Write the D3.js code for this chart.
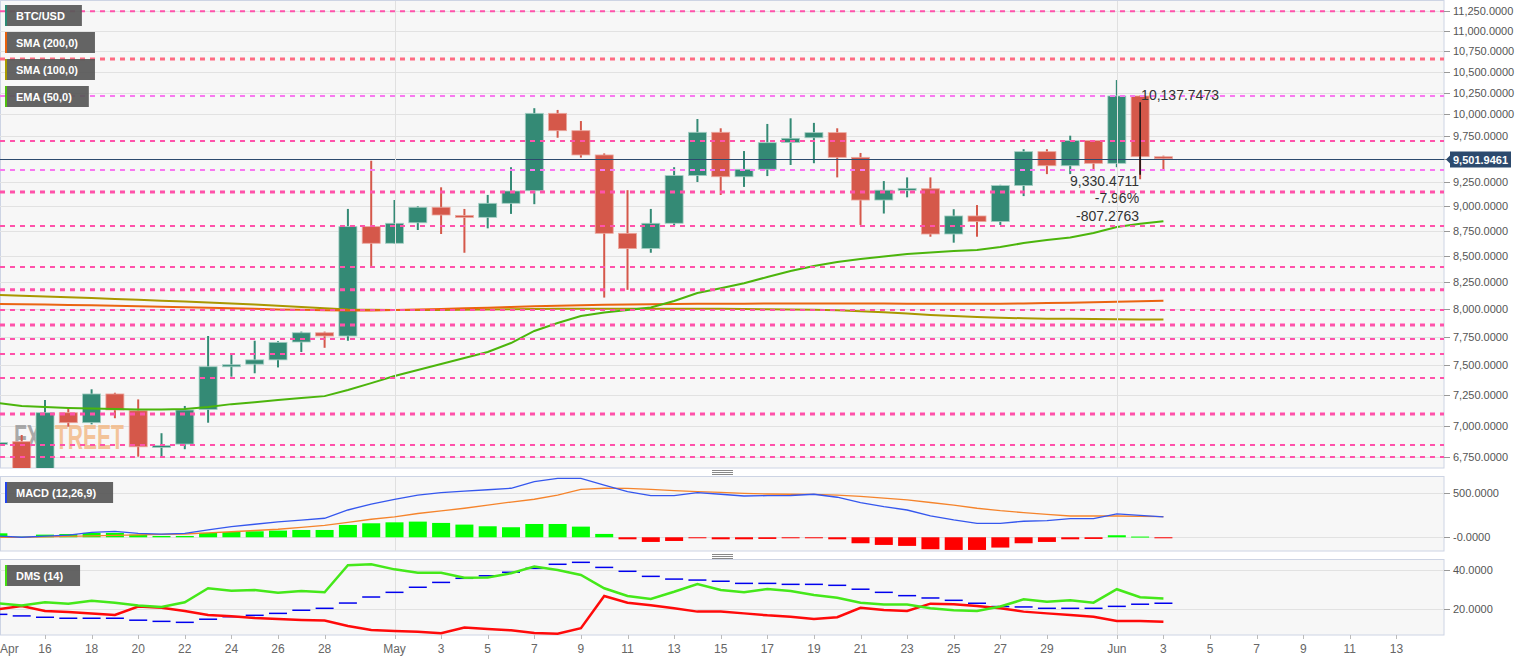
<!DOCTYPE html>
<html>
<head>
<meta charset="utf-8">
<script src="https://cdnjs.cloudflare.com/ajax/libs/d3/7.8.5/d3.min.js"></script>
<style>
body { margin: 0; background: #fff; }
text { font-family: "Liberation Sans", Arial, sans-serif; }
</style>
</head>
<body>
<div id="chart"></div>
<script>
// daily candles 14 Apr - 3 Jun 2020
var days = d3.utcDay.range(new Date(Date.UTC(2020, 3, 14)), new Date(Date.UTC(2020, 5, 4)));

var open = [6861, 6872, 6625, 7104, 7023, 7258, 7120, 6835, 6853, 7130, 7496, 7510, 7547, 7703, 7785, 7756, 8791,
	8625, 8830, 8988, 8905, 8885, 9029, 9160, 10009, 9812, 9543, 8724, 8573, 8825, 9320, 9794, 9308, 9388, 9680, 9733,
	9790, 9517, 9063, 9175, 9181, 8717, 8899, 8842, 9214, 9579, 9426, 9701, 9452, 10210, 9524];
var high = [6981, 6925, 7208, 7140, 7297, 7268, 7213, 6939, 7159, 7756, 7589, 7714, 7710, 7795, 7795, 8971, 9480,
	9063, 8998, 9196, 8971, 9116, 9410, 10068, 10048, 9921, 9560, 9166, 8971, 9410, 9944, 9839, 9586, 9888, 9952, 9900,
	9839, 9565, 9262, 9301, 9301, 8968, 9011, 9222, 9606, 9606, 9756, 9705, 10398, 10215, 9535];
var low = [6780, 6560, 6600, 6991, 7010, 7059, 6755, 6760, 6813, 7023, 7403, 7432, 7482, 7615, 7652, 7714, 8404,
	8620, 8757, 8717, 8532, 8774, 8920, 9020, 9733, 9514, 8105, 8177, 8532, 8800, 9252, 9116, 9200, 9315, 9434, 9453,
	9301, 8808, 8924, 9091, 8690, 8631, 8690, 8808, 9104, 9336, 9336, 9380, 9410, 9281, 9380];
var close = [6866, 6620, 7104, 7023, 7258, 7126, 6832, 6842, 7126, 7488, 7505, 7547, 7700, 7785, 7756, 8791, 8625,
	8825, 8988, 8909, 8885, 9029, 9157, 10009, 9812, 9543, 8724, 8573, 8825, 9320, 9794, 9308, 9388, 9678, 9727, 9790,
	9517, 9063, 9166, 9185, 8717, 8899, 8842, 9214, 9579, 9426, 9701, 9452, 10210, 9524, 9502];

// moving averages
var ema50 = [7183, 7158, 7150, 7142, 7138, 7134, 7131, 7130, 7134, 7150, 7174, 7190, 7208, 7224, 7240, 7291, 7349,
	7409, 7460, 7511, 7563, 7615, 7694, 7801, 7873, 7935, 7967, 7991, 8014, 8073, 8147, 8193, 8240, 8298, 8356, 8404,
	8442, 8471, 8496, 8520, 8534, 8549, 8559, 8588, 8627, 8657, 8682, 8728, 8788, 8819, 8845];
var sma100 = [8130, 8122, 8115, 8108, 8100, 8092, 8084, 8076, 8068, 8060, 8050, 8040, 8030, 8018, 8006, 7995, 7992,
	7990, 7990, 7990, 7992, 7995, 7998, 8000, 8002, 8003, 8003, 8003, 8003, 8002, 8002, 8001, 8000, 7998, 7996, 7993,
	7988, 7980, 7970, 7958, 7945, 7935, 7926, 7920, 7915, 7912, 7910, 7908, 7906, 7905, 7905];
var sma200 = [8046, 8043, 8040, 8037, 8034, 8030, 8026, 8021, 8016, 8011, 8006, 8001, 7996, 7992, 7988, 7985, 7986,
	7990, 7995, 8000, 8006, 8012, 8018, 8025, 8030, 8035, 8038, 8041, 8043, 8045, 8047, 8048, 8049, 8050, 8051, 8051,
	8051, 8051, 8050, 8049, 8048, 8048, 8048, 8049, 8051, 8054, 8058, 8062, 8067, 8072, 8076];

// MACD (12,26,9)
var macd = [15, 0, 12, 25, 55, 68, 45, 35, 45, 85, 120, 148, 174, 195, 216, 310, 378, 432, 480, 507, 525, 540, 557,
	632, 670, 670, 594, 518, 473, 473, 507, 489, 469, 473, 475, 489, 455, 393, 348, 310, 242, 197, 159, 159, 182, 189,
	211, 211, 265, 250, 231];
var signal = [0, -2, 5, 10, 15, 22, 28, 32, 37, 50, 63, 77, 91, 113, 136, 170, 205, 232, 270, 300, 330, 365, 400,
	432, 480, 545, 557, 555, 545, 530, 518, 510, 500, 492, 489, 488, 480, 465, 445, 424, 395, 365, 330, 302, 280, 260,
	242, 242, 242, 238, 234];
var hist = [45, 8, 30, 37, 50, 50, 30, 15, 15, 50, 60, 68, 76, 83, 83, 140, 159, 170, 178, 163, 144, 125, 114, 151,
	151, 121, 38, -23, -53, -42, -8, -23, -23, -19, -11, -4, -23, -68, -87, -98, -136, -144, -144, -117, -68, -53, -23,
	-19, 23, 8, -4];

// DMS (14)
var diPlus = [23.1, 21.9, 23.6, 22.9, 24.4, 23.4, 21.9, 21.2, 23.6, 30.8, 29.5, 29.9, 28.5, 29.4, 28.7, 42.6, 43.1,
	40.5, 38.8, 38.8, 36.2, 36.3, 38.5, 41.9, 40.2, 37.6, 30.8, 26.8, 25.3, 29.0, 33.0, 29.9, 28.7, 30.4, 29.4, 27.3,
	25.9, 23.4, 22.4, 22.4, 20.5, 19.5, 19.1, 21.4, 25.1, 23.9, 24.6, 23.4, 30.3, 26.2, 25.6];
var diMinus = [20.0, 21.7, 19.1, 18.6, 17.8, 17.1, 21.4, 20.8, 19.1, 17.1, 16.4, 15.5, 15.0, 14.5, 14.2, 11.4, 9.4,
	8.9, 8.5, 7.7, 10.6, 9.9, 9.2, 7.8, 7.5, 10.3, 26.8, 23.4, 22.1, 20.5, 18.8, 18.8, 17.9, 16.9, 16.2, 15.0, 15.9,
	20.8, 19.6, 19.1, 22.9, 22.6, 21.7, 20.5, 18.8, 17.9, 17.1, 16.2, 14.0, 14.0, 13.6];
var adx = [17.4, 16.6, 15.9, 15.4, 15.4, 15.4, 14.4, 13.8, 13.3, 14.9, 16.2, 16.9, 17.9, 19.5, 20.5, 23.2, 26.3,
	28.7, 31.3, 33.8, 35.9, 37.2, 39.0, 41.0, 43.1, 44.1, 41.5, 39.5, 36.9, 35.5, 35.0, 34.4, 33.3, 33.3, 32.8, 32.8,
	32.3, 30.3, 28.7, 27.0, 25.8, 24.6, 23.1, 21.4, 21.2, 20.5, 20.5, 20.5, 21.5, 22.6, 23.1];

// support / resistance lines
var levels = [11250, 10650, 10210, 9697, 9380, 9146, 8798, 8394, 8177, 7991, 7855, 7730, 7598, 7391, 7093, 6846, 6753];
var heavyLevels = [10650, 9146, 8177, 7855, 7093];
var violetLevels = [10210, 9380];
var lastPrice = 9501.9461;

// measure annotation on 2 Jun
var measureDay = 49, measureHigh = 10137.7473, measureLow = 9330.4711;
var measureTexts = ["9,330.4711", "-7.96%", "-807.2763"];

var priceTicks = d3.range(6750, 11251, 250);
var macdTicks = [500, 0], macdTickLabels = ["500.0000", "-0.0000"];
var dmsTicks = [40, 20];
var axisDays = [new Date(Date.UTC(2020, 3, 14))]
	.concat(d3.utcDay.range(new Date(Date.UTC(2020, 3, 16)), new Date(Date.UTC(2020, 3, 30)), 2))
	.concat(d3.utcDay.range(new Date(Date.UTC(2020, 4, 1)), new Date(Date.UTC(2020, 4, 31)), 2))
	.concat(d3.utcDay.range(new Date(Date.UTC(2020, 5, 1)), new Date(Date.UTC(2020, 5, 14)), 2));

var W = 1534, H = 661, panelRight = 1444;
var mainP = {top: 1, bottom: 468}, macdP = {top: 477, bottom: 551}, dmsP = {top: 560, bottom: 635};

var svg = d3.select("#chart").append("svg")
	.attr("width", W)
	.attr("height", H)
	.style("display", "block");

var x = d3.scaleUtc()
	.domain([new Date(Date.UTC(2020, 3, 14, 1, 39)), new Date(Date.UTC(2020, 5, 15, 1, 0))])
	.range([0, panelRight]);
var y = d3.scaleLog().domain([6668, 11383]).range([mainP.bottom, mainP.top]);
var yMacd = d3.scaleLinear().domain([-156, 685]).range([macdP.bottom, macdP.top]);
var yDms = d3.scaleLinear().domain([6.8, 45.3]).range([dmsP.bottom, dmsP.top]);

var green = "#348a75", red = "#d5584a";
var defs = svg.append("defs");

// panel frames and clips
[["main", mainP], ["macd", macdP], ["dms", dmsP]].forEach(function (p) {
	defs.append("clipPath").attr("id", "clip-" + p[0])
		.append("rect")
		.attr("x", 0).attr("y", p[1].top)
		.attr("width", panelRight).attr("height", p[1].bottom - p[1].top);
	svg.append("rect")
		.attr("x", 0.5).attr("y", p[1].top - 0.5)
		.attr("width", panelRight - 0.5).attr("height", p[1].bottom - p[1].top + 0.5)
		.attr("fill", "#f7f7f7")
		.attr("stroke", "#cdd4e4");
});

// splitter handles
[472, 556].forEach(function (yy) {
	[-2, 0, 2].forEach(function (o) {
		svg.append("line")
			.attr("x1", 712).attr("x2", 733)
			.attr("y1", yy + o + 0.5).attr("y2", yy + o + 0.5)
			.attr("stroke", "#888").attr("stroke-width", 1);
	});
});

// grid lines
var gMain = svg.append("g").attr("clip-path", "url(#clip-main)");
gMain.selectAll(".hgrid").data(priceTicks).enter().append("line")
	.attr("x1", 0).attr("x2", panelRight)
	.attr("y1", function (d) { return Math.round(y(d)) + 0.5; })
	.attr("y2", function (d) { return Math.round(y(d)) + 0.5; })
	.attr("stroke", "#e2e2e2");
svg.append("g").selectAll("line").data(macdTicks).enter().append("line")
	.attr("x1", 0).attr("x2", panelRight)
	.attr("y1", function (d) { return Math.round(yMacd(d)) + 0.5; })
	.attr("y2", function (d) { return Math.round(yMacd(d)) + 0.5; })
	.attr("stroke", "#e2e2e2");
svg.append("g").selectAll("line").data(dmsTicks).enter().append("line")
	.attr("x1", 0).attr("x2", panelRight)
	.attr("y1", function (d) { return Math.round(yDms(d)) + 0.5; })
	.attr("y2", function (d) { return Math.round(yDms(d)) + 0.5; })
	.attr("stroke", "#e2e2e2");
// month boundaries
[new Date(Date.UTC(2020, 4, 1)), new Date(Date.UTC(2020, 5, 1))].forEach(function (m) {
	[mainP, macdP, dmsP].forEach(function (p) {
		svg.append("line")
			.attr("x1", Math.round(x(m)) + 0.5).attr("x2", Math.round(x(m)) + 0.5)
			.attr("y1", p.top).attr("y2", p.bottom)
			.attr("stroke", "#e0e0e0");
	});
});

// watermark, squeezed horizontally
var wm = gMain.append("text")
	.attr("transform", "translate(14,449) scale(0.585,1)")
	.attr("font-size", 36).attr("font-weight", "bold")
	.attr("opacity", 0.75);
wm.append("tspan").attr("fill", "#8f8f8f").text("FX");
wm.append("tspan").attr("fill", "#f2b27a").text("STREET");

// candles
var candles = gMain.selectAll(".candle").data(days).enter().append("g");
candles.append("line")
	.attr("x1", function (d) { return x(d); })
	.attr("x2", function (d) { return x(d); })
	.attr("y1", function (d, i) { return y(high[i]); })
	.attr("y2", function (d, i) { return y(low[i]); })
	.attr("stroke", function (d, i) { return close[i] >= open[i] ? green : red; })
	.attr("stroke-width", 2);
candles.append("rect")
	.attr("x", function (d) { return x(d) - 9; })
	.attr("width", 18)
	.attr("y", function (d, i) { return y(Math.max(open[i], close[i])); })
	.attr("height", function (d, i) { return Math.max(2, Math.abs(y(open[i]) - y(close[i]))); })
	.attr("fill", function (d, i) { return close[i] >= open[i] ? green : red; })
	.attr("stroke", function (d, i) { return close[i] >= open[i] ? "#a5cfc4" : "#eba89f"; })
	.attr("stroke-width", 0.8);

// moving averages
var maLine = function (vals) {
	return d3.line().x(function (d, i) { return x(days[i]); }).y(function (d) { return y(d); })(vals);
};
[[sma100, "#a99700"], [sma200, "#ea6410"], [ema50, "#4cb50c"]].forEach(function (s) {
	gMain.append("path")
		.attr("d", maLine(s[0]))
		.attr("fill", "none")
		.attr("stroke", s[1])
		.attr("stroke-width", 2);
});

// horizontal levels
gMain.selectAll(".level").data(levels).enter().append("line")
	.attr("x1", 0).attr("x2", panelRight)
	.attr("y1", function (d) { return y(d); })
	.attr("y2", function (d) { return y(d); })
	.attr("stroke", function (d) {
		if (d === 10650) return "#ff6b82";
		if (violetLevels.indexOf(d) >= 0) return "#f878f0";
		return "#ff52aa";
	})
	.attr("stroke-width", function (d) { return heavyLevels.indexOf(d) >= 0 ? 3 : 2; })
	.attr("stroke-dasharray", "5,5");

// last price line
gMain.append("line")
	.attr("x1", 0).attr("x2", panelRight)
	.attr("y1", Math.round(y(lastPrice)) + 0.5).attr("y2", Math.round(y(lastPrice)) + 0.5)
	.attr("stroke", "#2c4a6e").attr("stroke-width", 1);

// measure annotation
var mx = x(days[measureDay]);
gMain.append("line")
	.attr("x1", mx).attr("x2", mx)
	.attr("y1", y(measureHigh)).attr("y2", y(measureLow))
	.attr("stroke", "#111").attr("stroke-width", 1.5);
gMain.append("text")
	.attr("x", mx + 1).attr("y", y(measureHigh) - 2)
	.attr("font-size", 14).attr("fill", "#333")
	.text(d3.format(",.4f")(measureHigh));
gMain.selectAll(".mtext").data(measureTexts).enter().append("text")
	.attr("x", mx - 1)
	.attr("y", function (d, i) { return y(measureLow) + 11 + i * 17.5; })
	.attr("text-anchor", "end")
	.attr("font-size", 14).attr("fill", "#333")
	.text(function (d) { return d; });

// MACD panel
var gMacd = svg.append("g").attr("clip-path", "url(#clip-macd)");
gMacd.selectAll("rect").data(hist).enter().append("rect")
	.attr("x", function (d, i) { return x(days[i]) - 9; })
	.attr("width", 18)
	.attr("y", function (d) { return d >= 0 ? yMacd(d) : yMacd(0); })
	.attr("height", function (d) { return Math.max(1, Math.abs(yMacd(d) - yMacd(0))); })
	.attr("fill", function (d) { return d >= 0 ? "#00ff00" : "#ff0000"; });
var macdLine = d3.line().x(function (d, i) { return x(days[i]); }).y(function (d) { return yMacd(d); });
gMacd.append("path").attr("d", macdLine(signal))
	.attr("fill", "none").attr("stroke", "#f5842c").attr("stroke-width", 1.3);
gMacd.append("path").attr("d", macdLine(macd))
	.attr("fill", "none").attr("stroke", "#3557ee").attr("stroke-width", 1.3);

// DMS panel
var gDms = svg.append("g").attr("clip-path", "url(#clip-dms)");
gDms.selectAll(".adx").data(adx).enter().append("line")
	.attr("x1", function (d, i) { return x(days[i]) - 9; })
	.attr("x2", function (d, i) { return x(days[i]) + 9; })
	.attr("y1", function (d) { return yDms(d); })
	.attr("y2", function (d) { return yDms(d); })
	.attr("stroke", "#0000ee").attr("stroke-width", 1.5);
var dmsLine = d3.line().x(function (d, i) { return x(days[i]); }).y(function (d) { return yDms(d); });
gDms.append("path").attr("d", dmsLine(diMinus))
	.attr("fill", "none").attr("stroke", "#ff0a0a").attr("stroke-width", 2.5);
gDms.append("path").attr("d", dmsLine(diPlus))
	.attr("fill", "none").attr("stroke", "#45e81a").attr("stroke-width", 2.5);

// right axes
function rightAxis(ticks, scale, labels) {
	var g = svg.append("g");
	g.selectAll("line").data(ticks).enter().append("line")
		.attr("x1", panelRight).attr("x2", panelRight + 6)
		.attr("y1", function (d) { return Math.round(scale(d)) + 0.5; })
		.attr("y2", function (d) { return Math.round(scale(d)) + 0.5; })
		.attr("stroke", "#999");
	g.selectAll("text").data(ticks).enter().append("text")
		.attr("x", panelRight + 9)
		.attr("y", function (d) { return scale(d) + 4; })
		.attr("font-size", 11).attr("fill", "#555")
		.text(function (d, i) { return labels ? labels[i] : d3.format(",.4f")(d); });
}
rightAxis(priceTicks, y);
rightAxis(macdTicks, yMacd, macdTickLabels);
rightAxis(dmsTicks, yDms);

// last price tag
var py = Math.round(y(lastPrice)) + 0.5;
svg.append("path")
	.attr("d", "M" + (panelRight + 2) + "," + py + " L" + (panelRight + 6) + "," + (py - 4) + " V" + (py - 8) +
		" H1511 V" + (py + 8) + " H" + (panelRight + 6) + " V" + (py + 4) + " Z")
	.attr("fill", "#2c4a6e");
svg.append("text")
	.attr("x", panelRight + 9).attr("y", py + 4)
	.attr("font-size", 11).attr("font-weight", "bold").attr("fill", "#fff")
	.text(d3.format(",.4f")(lastPrice));

// bottom time axis
var fmtMonth = d3.utcFormat("%b"), fmtDay = d3.utcFormat("%-d");
var xa = svg.append("g");
xa.selectAll("line").data(axisDays.slice(1)).enter().append("line")
	.attr("x1", function (d) { return Math.round(x(d)) + 0.5; })
	.attr("x2", function (d) { return Math.round(x(d)) + 0.5; })
	.attr("y1", dmsP.bottom).attr("y2", dmsP.bottom + 4)
	.attr("stroke", "#bbb");
xa.selectAll("text").data(axisDays).enter().append("text")
	.attr("x", function (d, i) { return i === 0 ? 0 : x(d); })
	.attr("y", 653)
	.attr("text-anchor", function (d, i) { return i === 0 ? "start" : "middle"; })
	.attr("font-size", 12).attr("fill", "#666")
	.text(function (d, i) { return (i === 0 || d.getUTCDate() === 1) ? fmtMonth(d) : fmtDay(d); });

// legend tags
function tag(label, ty, color) {
	var g = svg.append("g");
	var t = g.append("text")
		.attr("x", 16).attr("y", ty + 15)
		.attr("font-size", 11).attr("font-weight", "bold").attr("fill", "#fff")
		.text(label);
	var w = t.node().getComputedTextLength();
	g.insert("rect", "text")
		.attr("x", 5).attr("y", ty).attr("width", w + 28).attr("height", 21)
		.attr("fill", "#585858").attr("opacity", 0.93);
	g.insert("rect", "text")
		.attr("x", 5).attr("y", ty).attr("width", 2).attr("height", 21)
		.attr("fill", color);
}
tag("BTC/USD", 5, "#2b8a74");
tag("SMA (200,0)", 32, "#e8600c");
tag("SMA (100,0)", 59, "#a89a00");
tag("EMA (50,0)", 86, "#4fbf10");
tag("MACD (12,26,9)", 482, "#2244ee");
tag("DMS (14)", 565, "#44dd11");
</script>
</body>
</html>
